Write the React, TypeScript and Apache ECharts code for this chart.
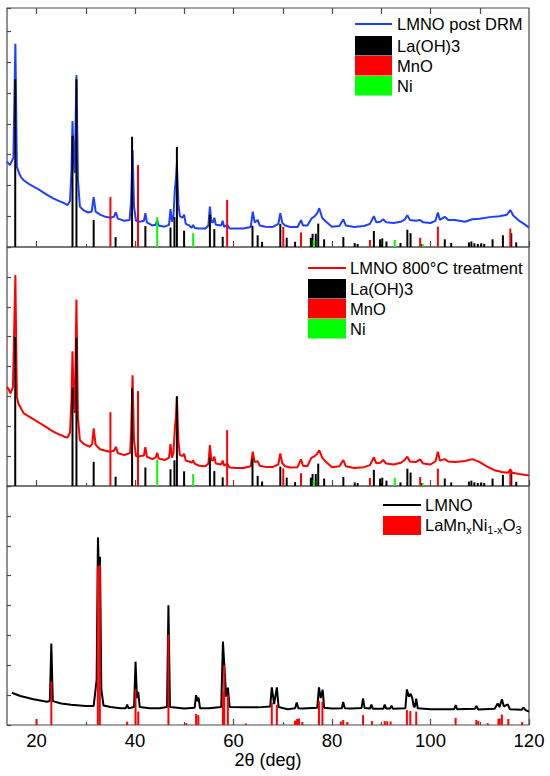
import React, { useEffect, useRef } from "react";
import * as echarts from "echarts";

const FONT = '"Liberation Sans", Arial, Helvetica, sans-serif';

const X_MIN = 14;
const X_MAX = 120;
const majorTicks = [20, 40, 60, 80, 100, 120];
const minorTicks = [30, 50, 70, 90, 110];
const topTicks = [20, 30, 40, 50, 60, 70, 80, 90, 100, 110];
const xTitle = "2θ (deg)";

// Panel 1: LMNO post DRM (blue)
const postDRM: [number, number][] = [
  [14.0, 2.77], [14.6, 2.66], [15.3, 2.9], [15.7, 6.6], [16.0, 2.6], [16.4, 2.42], [16.8, 2.28],
  [17.5, 2.15], [18.5, 2.04], [19.5, 1.95], [20.5, 1.86], [21.5, 1.76], [22.5, 1.66], [23.5, 1.57],
  [24.5, 1.5], [25.5, 1.43], [26.3, 1.36], [26.8, 1.5], [27.1, 2.5], [27.3, 4.09], [27.55, 2.8],
  [27.75, 2.4], [28.1, 5.58], [28.4, 2.2], [28.8, 1.31], [29.5, 1.2], [30.5, 1.12], [31.2, 1.15],
  [31.6, 1.62], [32.0, 1.15], [32.9, 1.05], [34.0, 0.98], [35.0, 0.95], [35.7, 0.98], [36.1, 1.13],
  [36.5, 0.92], [37.8, 0.85], [38.9, 0.88], [39.2, 1.5], [39.5, 3.15], [39.8, 1.3], [40.2, 0.85],
  [41.0, 0.82], [41.8, 0.85], [42.1, 1.1], [42.4, 0.8], [43.5, 0.7], [44.2, 0.72], [44.5, 0.88],
  [44.8, 0.7], [46.0, 0.66], [46.9, 0.72], [47.2, 1.23], [47.5, 0.82], [47.8, 1.0], [48.1, 1.9],
  [48.3, 2.2], [48.5, 2.72], [48.8, 1.4], [49.1, 1.0], [49.6, 0.95], [49.96, 1.05], [50.3, 0.75],
  [51.0, 0.7], [51.5, 0.62], [51.8, 0.72], [52.1, 0.62], [53.0, 0.6], [54.3, 0.6], [54.9, 0.7],
  [55.2, 1.31], [55.5, 0.82], [55.8, 0.8], [56.1, 0.95], [56.4, 0.72], [57.5, 0.7], [57.8, 0.85],
  [58.1, 0.65], [58.7, 0.72], [59.2, 0.6], [60.5, 0.6], [62.0, 0.6], [63.5, 0.65], [63.9, 1.15],
  [64.3, 0.8], [64.9, 0.88], [65.3, 0.7], [66.5, 0.66], [68.0, 0.65], [69.1, 0.75], [69.5, 1.1],
  [69.9, 0.78], [70.5, 0.7], [71.5, 0.65], [73.0, 0.65], [73.7, 0.87], [74.1, 0.7], [75.0, 0.7],
  [75.8, 0.92], [76.5, 1.0], [77.0, 1.1], [77.4, 1.26], [78.0, 0.95], [78.8, 0.82], [80.0, 0.66],
  [81.5, 0.68], [82.3, 0.9], [82.8, 0.7], [84.5, 0.65], [86.5, 0.68], [87.7, 0.75], [88.5, 1.0],
  [89.0, 0.8], [89.8, 0.82], [90.4, 0.9], [91.0, 0.8], [92.5, 0.78], [94.0, 0.82], [94.8, 0.9],
  [95.3, 1.03], [95.8, 0.88], [97.0, 0.85], [97.9, 0.88], [98.5, 0.8], [100.0, 0.78], [101.0, 0.85],
  [101.5, 1.12], [101.9, 0.88], [102.9, 0.98], [103.6, 0.88], [105.0, 0.88], [107.0, 0.82],
  [108.5, 0.9], [110.0, 0.92], [112.0, 0.97], [114.0, 1.0], [115.5, 1.05], [116.2, 1.2],
  [116.8, 1.02], [118.0, 0.85], [119.0, 0.75], [120.0, 0.63],
];

const laOH3_p1: [number, number][] = [
  [15.67, 5.45], [27.3, 3.61], [28.1, 5.45], [31.6, 0.88], [36.05, 0.32], [39.4, 3.58], [42.1, 0.68],
  [47.2, 0.63], [48.0, 0.97], [48.5, 3.25], [49.96, 0.53], [55.2, 1.05], [56.1, 0.58], [57.8, 0.33],
  [63.85, 0.69], [64.9, 0.38], [65.8, 0.17], [69.5, 0.75], [70.8, 0.3], [72.5, 0.17], [75.7, 0.3],
  [76.05, 0.43], [76.7, 0.43], [77.2, 0.76], [78.4, 0.25], [82.3, 0.32], [84.6, 0.13], [85.2, 0.1],
  [88.5, 0.52], [89.75, 0.25], [90.2, 0.28], [91.05, 0.18], [93.9, 0.13], [95.3, 0.56], [95.95, 0.45],
  [98.1, 0.1], [102.9, 0.25], [104.2, 0.13], [107.8, 0.15], [108.3, 0.18], [108.9, 0.12], [109.6, 0.1],
  [110.3, 0.12], [110.9, 0.1], [112.6, 0.25], [114.7, 0.38], [116.4, 0.45], [117.4, 0.15],
];
const mnO_p1: [number, number][] = [
  [35.0, 1.62], [40.6, 2.66], [58.7, 1.53], [70.1, 0.65], [73.7, 0.47], [87.7, 0.23], [97.9, 0.3],
  [101.5, 0.66], [116.2, 0.6],
];
const ni_p1: [number, number][] = [
  [44.5, 0.97], [51.8, 0.45], [76.3, 0.23], [92.75, 0.23], [98.4, 0.1],
];

// Panel 2: LMNO 800°C treatment (red)
const treat800: [number, number][] = [
  [14.0, 3.32], [14.3, 3.25], [14.7, 3.1], [15.2, 3.3], [15.7, 7.06], [16.0, 3.0], [16.3, 2.77],
  [17.0, 2.55], [17.4, 2.43], [18.5, 2.32], [19.5, 2.22], [20.2, 2.15], [21.5, 2.02], [22.9, 1.87],
  [24.0, 1.77], [25.0, 1.7], [25.6, 1.65], [26.3, 1.62], [26.8, 1.8], [27.1, 2.9], [27.3, 4.51],
  [27.55, 2.8], [27.75, 2.44], [28.1, 6.24], [28.4, 2.3], [28.8, 1.54], [29.5, 1.42], [30.8, 1.31],
  [31.3, 1.4], [31.6, 1.93], [32.0, 1.38], [32.9, 1.23], [34.0, 1.18], [35.0, 1.15], [35.7, 1.18],
  [36.1, 1.31], [36.5, 1.1], [37.8, 1.04], [39.0, 1.1], [39.2, 1.8], [39.5, 3.71], [39.8, 1.5],
  [40.2, 1.0], [41.0, 1.0], [41.8, 1.02], [42.1, 1.3], [42.4, 0.98], [43.5, 0.9], [44.2, 0.95],
  [44.5, 1.11], [44.8, 0.92], [46.0, 0.87], [46.9, 0.95], [47.2, 1.4], [47.5, 0.95], [47.8, 1.1],
  [48.1, 1.97], [48.3, 2.3], [48.5, 3.01], [48.8, 1.5], [49.1, 1.04], [49.6, 1.0], [49.96, 1.08],
  [50.3, 0.85], [51.0, 0.82], [51.5, 0.78], [51.8, 0.86], [52.1, 0.75], [53.0, 0.68], [54.3, 0.66],
  [54.9, 0.75], [55.2, 1.37], [55.5, 0.87], [55.8, 0.85], [56.1, 0.98], [56.4, 0.75], [57.5, 0.72],
  [57.8, 0.85], [58.1, 0.68], [58.7, 0.75], [59.2, 0.62], [60.5, 0.6], [62.0, 0.6], [63.5, 0.66],
  [63.9, 1.15], [64.3, 0.8], [64.9, 0.83], [65.3, 0.68], [66.5, 0.64], [68.0, 0.64], [69.1, 0.72],
  [69.5, 1.09], [69.9, 0.76], [70.5, 0.66], [71.5, 0.62], [73.0, 0.63], [73.7, 0.89], [74.1, 0.68],
  [75.0, 0.66], [75.8, 0.94], [76.5, 1.0], [77.0, 1.08], [77.4, 1.2], [78.0, 0.95], [78.8, 0.8],
  [80.0, 0.63], [81.5, 0.66], [82.3, 0.87], [82.8, 0.66], [84.5, 0.6], [86.5, 0.63], [87.7, 0.7],
  [88.5, 0.96], [89.0, 0.76], [89.8, 0.78], [90.4, 0.87], [91.0, 0.75], [92.5, 0.72], [94.0, 0.78],
  [94.8, 0.88], [95.3, 0.98], [95.8, 0.82], [97.0, 0.8], [97.9, 0.89], [98.5, 0.75], [100.0, 0.72],
  [101.0, 0.82], [101.5, 1.15], [101.9, 0.85], [102.9, 0.9], [103.6, 0.82], [105.0, 0.8],
  [107.0, 0.84], [108.5, 0.9], [110.0, 0.8], [111.5, 0.65], [113.0, 0.53], [114.5, 0.47],
  [115.7, 0.44], [116.2, 0.55], [116.6, 0.44], [118.0, 0.4], [120.0, 0.35],
];

const laOH3_p2: [number, number][] = [
  [15.67, 4.99], [27.3, 3.29], [28.1, 4.96], [31.6, 0.81], [36.05, 0.31], [39.4, 3.27], [42.1, 0.62],
  [47.2, 0.56], [48.0, 0.86], [48.5, 2.99], [49.96, 0.49], [55.2, 0.95], [56.1, 0.5], [57.8, 0.29],
  [63.85, 0.92], [64.9, 0.34], [65.8, 0.15], [69.5, 0.65], [70.8, 0.28], [72.5, 0.13], [75.7, 0.28],
  [76.05, 0.4], [76.7, 0.4], [77.2, 0.75], [78.4, 0.25], [82.3, 0.3], [84.6, 0.12], [85.2, 0.1],
  [88.5, 0.54], [89.75, 0.25], [90.2, 0.28], [91.05, 0.18], [93.9, 0.12], [95.3, 0.58], [95.95, 0.45],
  [98.1, 0.1], [102.9, 0.25], [104.2, 0.12], [107.8, 0.15], [108.3, 0.18], [108.9, 0.12], [109.6, 0.1],
  [110.3, 0.12], [110.9, 0.1], [112.6, 0.25], [114.7, 0.37], [116.4, 0.43], [117.4, 0.14],
];
const mnO_p2: [number, number][] = [
  [35.0, 2.47], [40.6, 3.18], [58.7, 1.87], [70.1, 0.59], [73.7, 0.43], [87.7, 0.27], [97.9, 0.3],
  [101.5, 0.58], [116.2, 0.58],
];
const ni_p2: [number, number][] = [
  [44.5, 0.89], [51.8, 0.4], [76.3, 0.2], [92.75, 0.27], [98.4, 0.1],
];

// Panel 3: LMNO (black) and LaMnxNi1-xO3 reference (red)
const lmno: [number, number][] = [
  [15.0, 1.08], [16.7, 0.97], [19.4, 0.86], [22.1, 0.78], [22.7, 0.8], [23.0, 2.73], [23.3, 0.8],
  [25.0, 0.72], [27.0, 0.68], [30.0, 0.64], [31.6, 0.64], [32.2, 1.5], [32.47, 6.28], [32.65, 5.2],
  [32.88, 5.63], [33.15, 1.2], [33.6, 0.65], [35.0, 0.6], [37.0, 0.56], [38.1, 0.56], [38.4, 0.68],
  [38.7, 0.56], [39.8, 0.6], [40.1, 2.12], [40.4, 0.9], [40.65, 1.11], [40.95, 0.6], [43.0, 0.56],
  [45.0, 0.56], [46.5, 0.6], [46.78, 4.01], [47.1, 0.6], [50.0, 0.55], [52.1, 0.58], [52.4, 1.0],
  [52.65, 0.8], [52.9, 0.92], [53.2, 0.56], [55.0, 0.56], [57.5, 0.6], [57.85, 2.79], [58.1, 2.07],
  [58.5, 0.95], [58.86, 1.25], [59.2, 0.6], [62.0, 0.59], [65.0, 0.59], [67.45, 0.62], [67.77, 1.26],
  [68.25, 0.7], [68.8, 1.26], [69.15, 0.6], [71.0, 0.53], [72.5, 0.56], [72.83, 0.75], [73.15, 0.56],
  [74.0, 0.55], [77.0, 0.58], [77.35, 1.26], [77.7, 0.9], [78.1, 1.18], [78.4, 0.58], [80.0, 0.55],
  [82.0, 0.56], [82.27, 0.77], [82.6, 0.56], [84.0, 0.55], [86.0, 0.57], [86.3, 0.89], [86.6, 0.57],
  [87.7, 0.55], [88.0, 0.68], [88.3, 0.54], [90.4, 0.54], [90.7, 0.68], [91.0, 0.55], [91.8, 0.55],
  [92.07, 0.65], [92.4, 0.54], [94.9, 0.56], [95.2, 1.19], [95.6, 0.95], [95.97, 1.04], [96.3, 0.9],
  [96.6, 0.62], [96.8, 0.6], [97.1, 0.88], [97.4, 0.56], [100.0, 0.53], [104.8, 0.53], [105.1, 0.67],
  [105.4, 0.53], [109.0, 0.54], [109.3, 0.64], [109.7, 0.52], [113.0, 0.54], [113.65, 0.72],
  [114.0, 0.6], [114.5, 0.86], [114.9, 0.62], [115.7, 0.69], [116.1, 0.53], [118.5, 0.51],
  [118.9, 0.58], [119.3, 0.5], [120.0, 0.45],
];

const laMnNiO3: [number, number][] = [
  [20.0, 0.2], [23.0, 1.45], [32.45, 5.32], [32.85, 5.35], [38.4, 0.11], [40.1, 1.19], [40.65, 0.45],
  [46.78, 3.03], [50.4, 0.06], [52.4, 0.37], [52.85, 0.33], [57.85, 1.11], [58.1, 2.0], [58.85, 1.0],
  [62.5, 0.05], [67.77, 0.76], [68.8, 0.67], [72.5, 0.15], [72.9, 0.2], [73.3, 0.22], [73.97, 0.1],
  [77.35, 0.8], [78.05, 0.78], [81.8, 0.12], [82.27, 0.17], [83.1, 0.1], [86.3, 0.33], [88.1, 0.13],
  [90.7, 0.13], [91.2, 0.12], [91.9, 0.12], [95.2, 0.5], [95.9, 0.47], [97.1, 0.45], [105.1, 0.24],
  [109.3, 0.17], [109.7, 0.13], [111.6, 0.06], [113.8, 0.2], [114.05, 0.22], [114.5, 0.35],
  [115.8, 0.2], [118.6, 0.1],
];

const legend1 = ["LMNO post DRM", "La(OH)3", "MnO", "Ni"];
const legend2 = ["LMNO 800°C treatment", "La(OH)3", "MnO", "Ni"];
const legend3 = ["LMNO"];

const BLUE = "#1f3fff";
const RED = "#ff0000";
const GREEN = "#00ff00";
const BLACK = "#000000";
const FRAME = "#4a4a4a";

export default function App() {
  const ref = useRef<HTMLDivElement>(null);

  useEffect(() => {
    if (!ref.current) return;
    const chart = echarts.init(ref.current, undefined, { renderer: "svg" });

    const grids = [
      { left: 7, top: 8, width: 522, height: 239 },
      { left: 7, top: 247, width: 522, height: 239 },
      { left: 7, top: 486, width: 522, height: 239 },
    ].map((g) => ({ ...g, show: true, borderColor: FRAME, borderWidth: 1.2, backgroundColor: "transparent" }));

    const tickAxis = (gridIndex: number, position: string, values: number[], len: number, label: boolean, name?: string) => ({
      type: "value",
      gridIndex,
      position,
      min: X_MIN,
      max: X_MAX,
      axisLine: { show: false },
      splitLine: { show: false },
      axisTick: { show: true, inside: true, length: len, customValues: values, lineStyle: { color: FRAME, width: 1.2 } },
      axisLabel: label
        ? { show: true, customValues: values, fontSize: 18.5, color: "#000", margin: 6, fontFamily: FONT }
        : { show: false },
      name: name || "",
      nameLocation: "middle",
      nameGap: 24,
      nameTextStyle: { fontSize: 18, color: "#000", fontFamily: FONT, verticalAlign: "top" },
    });

    const xAxis = [
      tickAxis(0, "bottom", majorTicks, 6, false), // 0
      tickAxis(0, "bottom", minorTicks, 3, false), // 1
      tickAxis(0, "top", topTicks, 6, false), // 2
      tickAxis(1, "bottom", majorTicks, 6, false), // 3
      tickAxis(1, "bottom", minorTicks, 3, false), // 4
      tickAxis(2, "bottom", majorTicks, 6, true, xTitle), // 5
      tickAxis(2, "bottom", minorTicks, 3, false), // 6
    ];
    const mainX = [0, 3, 5];

    const yMax = [7.76, 8, 8];
    const yAxis = yMax.map((m, i) => ({
      type: "value",
      gridIndex: i,
      min: 0,
      max: m,
      interval: 1,
      axisLine: { show: false },
      splitLine: { show: false },
      axisLabel: { show: false },
      axisTick: { show: true, inside: true, length: 4, lineStyle: { color: FRAME, width: 1.2 } },
    }));

    const line = (i: number, data: [number, number][], color: string) => ({
      type: "line",
      xAxisIndex: mainX[i],
      yAxisIndex: i,
      data,
      showSymbol: false,
      symbol: "none",
      lineStyle: { color, width: 2 },
      z: 2,
      silent: true,
    });
    const sticks = (i: number, data: [number, number][], color: string) => ({
      type: "bar",
      xAxisIndex: mainX[i],
      yAxisIndex: i,
      data,
      barWidth: 2,
      barGap: "-100%",
      itemStyle: { color },
      z: 3,
      silent: true,
    });

    const series = [
      line(0, postDRM, BLUE),
      sticks(0, laOH3_p1, BLACK),
      sticks(0, mnO_p1, RED),
      sticks(0, ni_p1, GREEN),
      line(1, treat800, RED),
      sticks(1, laOH3_p2, BLACK),
      sticks(1, mnO_p2, RED),
      sticks(1, ni_p2, GREEN),
      line(2, lmno, BLACK),
      sticks(2, laMnNiO3, RED),
    ];

    const txt = (x: number, y: number, text: string) => ({
      type: "text",
      x,
      y,
      z: 100,
      style: { text, fontSize: 16.5, fontFamily: FONT, fill: "#000", verticalAlign: "middle", align: "left" },
    });
    const box = (x: number, y: number, w: number, h: number, fill: string) => ({
      type: "rect",
      z: 100,
      shape: { x, y, width: w, height: h },
      style: { fill },
    });
    const ln = (x1: number, x2: number, y: number, stroke: string) => ({
      type: "line",
      z: 100,
      shape: { x1, y1: y, x2, y2: y },
      style: { stroke, lineWidth: 2 },
    });

    const graphic = [
      ln(355, 392, 24, BLUE),
      txt(397, 24, legend1[0]),
      box(355, 36, 37, 19.5, BLACK),
      txt(397, 45.5, legend1[1]),
      box(355, 56, 37, 19.5, RED),
      txt(397, 65.5, legend1[2]),
      box(355, 76, 37, 19.5, GREEN),
      txt(397, 86, legend1[3]),

      ln(308, 346, 268, RED),
      txt(350, 268, legend2[0]),
      box(308, 279, 38, 19.5, BLACK),
      txt(350, 288.5, legend2[1]),
      box(308, 299, 38, 19.5, RED),
      txt(350, 308.5, legend2[2]),
      box(308, 319, 38, 19.5, GREEN),
      txt(350, 328.5, legend2[3]),

      ln(383, 421, 505, BLACK),
      txt(425, 505, legend3[0]),
      box(383, 516, 38, 19, RED),
      {
        type: "text",
        x: 425,
        y: 525,
        z: 100,
        style: {
          text: "{n|LaMn}{s|x}{n|Ni}{s|1-x}{n|O}{s|3}",
          fontFamily: FONT,
          fill: "#000",
          verticalAlign: "middle",
          align: "left",
          rich: {
            n: { fontSize: 16.5, lineHeight: 20, fontFamily: FONT, fill: "#000", verticalAlign: "middle" },
            s: { fontSize: 11, lineHeight: 10, fontFamily: FONT, fill: "#000", verticalAlign: "bottom" },
          },
        },
      },
    ];

    chart.setOption({
      animation: false,
      backgroundColor: "#ffffff",
      grid: grids,
      xAxis,
      yAxis,
      series,
      graphic,
    } as any);

    return () => chart.dispose();
  }, []);

  return <div ref={ref} style={{ position: "fixed", left: 0, top: 0, width: 550, height: 776 }} />;
}
